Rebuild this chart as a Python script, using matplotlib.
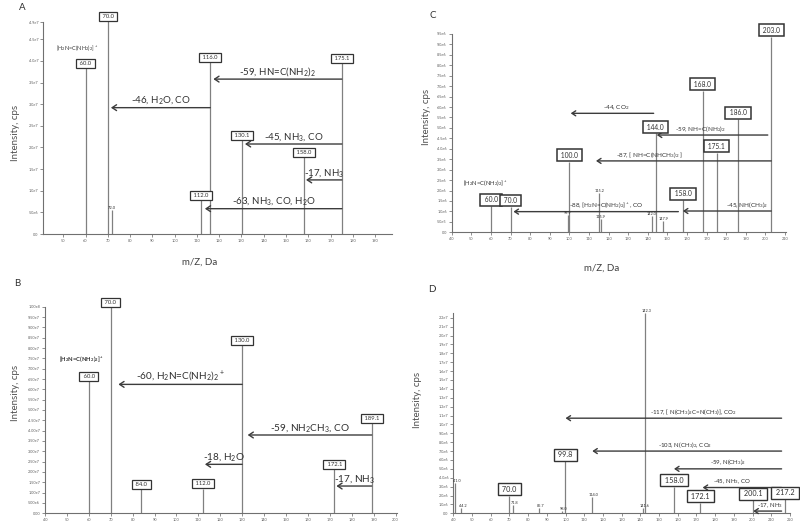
import numpy as np
import matplotlib
matplotlib.use('Agg')
import matplotlib.pyplot as plt

plt.rcParams['font.family'] = ['Lato', 'DejaVu Sans']
plt.rcParams['mathtext.default'] = 'regular'

# ---------------- Panel A ----------------
a_box_mz = [60.0, 70.0, 112.0, 116.0, 130.1, 158.0, 175.1]
a_box_int = [3.83e7, 4.92e7, 7.9e6, 3.98e7, 2.18e7, 1.78e7, 3.95e7]
a_small_mz = [72.0]
a_small_int = [5.6e6]
a_arrow_from = [175.1, 116.0, 175.1, 175.1, 175.1]
a_arrow_to = [117.4, 71.4, 131.6, 159.0, 113.6]
a_arrow_y = [3.58e7, 2.92e7, 2.08e7, 1.25e7, 5.85e6]
a_arrow_labels = ["-59, HN=C(NH$_2$)$_2$", "-46, H$_2$O, CO", "-45, NH$_3$, CO",
                  "-17, NH$_3$", "-63, NH$_3$, CO, H$_2$O"]
a_ion_label = "[H$_2$N=C(NH$_2$)$_2$]$^+$"
a_xticks = [50, 60, 70, 80, 90, 100, 110, 120, 130, 140, 150, 160, 170, 180, 190]
a_yticks = [0, 5e6, 1e7, 1.5e7, 2e7, 2.5e7, 3e7, 3.5e7, 4e7, 4.5e7, 4.9e7]

# ---------------- Panel B ----------------
b_box_mz = [60.0, 70.0, 84.0, 112.0, 130.0, 172.1, 189.1]
b_box_int = [6.4e7, 1.0e8, 1.16e7, 1.2e7, 8.15e7, 2.13e7, 4.35e7]
b_arrow_from = [130.0, 189.1, 130.0, 189.1]
b_arrow_to = [73.5, 132.5, 113.0, 173.0]
b_arrow_y = [6.24e7, 3.79e7, 2.37e7, 1.32e7]
b_arrow_labels = ["-60, H$_2$N=C(NH$_2$)$_2$$^+$", "-59, NH$_2$CH$_3$, CO",
                  "-18, H$_2$O", "-17, NH$_3$"]
b_ion_label = "[H$_2$N=C(NH$_2$)$_2$]$^+$"
b_xticks = list(range(40, 201, 10))
b_yticks = [i * 5e6 for i in range(21)]

# ---------------- Panel C ----------------
c_box_mz = [60.0, 70.0, 100.0, 144.0, 158.0, 168.0, 175.1, 186.0, 203.0]
c_box_int = [1.26e6, 1.23e6, 3.39e6, 4.74e6, 1.55e6, 6.79e6, 3.82e6, 5.43e6, 9.38e6]
c_small_mz = [99.3, 115.2, 115.9, 142.0, 147.9]
c_small_int = [0.85e6, 1.9e6, 0.62e6, 0.8e6, 0.55e6]
c_small_labels = ["99.9", "115.2", "115.9", "142.0", "147.9"]
c_arrow_from = [143.0, 201.2, 203.0, 155.6, 203.0]
c_arrow_to = [100.7, 144.6, 113.6, 71.5, 157.9]
c_arrow_y = [5.7e6, 4.66e6, 3.42e6, 0.99e6, 1.02e6]
c_arrow_labels = ["-44, CO$_2$", "-59, NH=C(NH$_2$)$_2$", "-87, [ NH=C(NHCH$_3$)$_2$ ]",
                  "-88, [H$_2$N=C(NH$_2$)$_2$]$^+$, CO", "-45, NH(CH$_3$)$_2$"]
c_ion_label = "[H$_2$N=C(NH$_2$)$_2$]$^+$"
c_xticks = list(range(40, 211, 10))
c_yticks = [i * 5e5 for i in range(20)]

# ---------------- Panel D ----------------
d_box_mz = [70.0, 99.8, 158.0, 172.1, 200.1, 217.2]
d_box_int = [2.0e6, 5.9e6, 3.0e6, 1.2e6, 1.5e6, 1.6e6]
d_small_mz = [41.0, 44.2, 71.8, 85.7, 98.0, 114.0, 141.6, 142.3]
d_small_int = [3.4e6, 0.6e6, 0.95e6, 0.6e6, 0.25e6, 1.8e6, 0.6e6, 2.25e7]
d_arrow_from = [215.5, 215.5, 215.5, 215.5, 215.5]
d_arrow_to = [100.0, 114.3, 158.0, 173.3, 200.4]
d_arrow_y = [1.07e7, 7.0e6, 5.0e6, 2.9e6, 0.25e6]
d_arrow_labels = ["-117, [ N(CH$_3$)$_2$C=N(CH$_3$)], CO$_2$", "-103, N(CH$_3$)$_2$, CO$_2$",
                  "-59, N(CH$_3$)$_2$", "-45, NH$_3$, CO", "-17, NH$_3$"]
d_xticks = list(range(40, 221, 10))
d_yticks = [i * 1e6 for i in range(23)]

# ---------------- layout / style ----------------
W, H = 800, 527
fig = plt.figure(figsize=(W / 100, H / 100), dpi=100)

PEAK_C = '#808080'
ARROW_C = '#3c3c3c'
TXT_C = '#303030'
TICK_C = '#606060'


def sci(v, d):
    if v == 0:
        return '0.' + '0' * d
    e = int(np.floor(np.log10(v) + 1e-9))
    m = v / 10 ** e
    return f"{m:.{d}f}e{e}"


def make_axes(px_left, px_right, px_bottom, px_top, xlim, ylim, xticks, yticks, ydig):
    ax = fig.add_axes([px_left / W, 1 - px_bottom / H,
                       (px_right - px_left) / W, (px_bottom - px_top) / H])
    ax.set_xlim(*xlim)
    ax.set_ylim(*ylim)
    for s in ['top', 'right']:
        ax.spines[s].set_visible(False)
    for s in ['left', 'bottom']:
        ax.spines[s].set_color('#707070')
        ax.spines[s].set_linewidth(0.8)
    ax.set_xticks(xticks)
    ax.set_xticklabels([str(t) for t in xticks])
    ax.set_yticks(yticks)
    ax.set_yticklabels([sci(t, ydig) for t in yticks])
    ax.tick_params(axis='both', length=2, width=0.5, color=TICK_C,
                   labelsize=2.8, labelcolor=TICK_C, pad=1.5)
    ax.patch.set_alpha(0)
    return ax


def draw_peaks(ax, mz, inten, lw=0.9):
    ax.vlines(mz, 0, inten, colors=PEAK_C, lw=lw, clip_on=False, zorder=2)


def draw_boxes(ax, mz, inten, fs, lw=0.9, off=1.5):
    for m, h in zip(mz, inten):
        ax.annotate(f" {m:.1f} ", xy=(m, h), xytext=(0, off), textcoords='offset points',
                    ha='center', va='bottom', fontsize=fs, color=TXT_C, zorder=5,
                    annotation_clip=False,
                    bbox=dict(boxstyle='square,pad=0.35', fc='white', ec='#333333', lw=lw))


def draw_arrows(ax, frm, to, ys, labels, fs, label_x=None, lw=1.0, ms=7, toff=1.0):
    for i, (f, t, y, lab) in enumerate(zip(frm, to, ys, labels)):
        ax.annotate('', xy=(t, y), xytext=(f, y),
                    arrowprops=dict(arrowstyle='->,head_length=0.45,head_width=0.3',
                                    lw=lw, color=ARROW_C, shrinkA=0, shrinkB=0,
                                    mutation_scale=ms), zorder=4)
        lx = (f + t) / 2 if label_x is None else label_x[i]
        ax.annotate(lab, xy=(lx, y), xytext=(0, toff), textcoords='offset points',
                    ha='center', va='bottom', fontsize=fs, color=TXT_C, zorder=6)


# ----- Panel A -----
axA = make_axes(43, 392, 234, 22, (40.9, 197.6), (0, 4.9e7), a_xticks, a_yticks, 1)
draw_peaks(axA, a_box_mz + a_small_mz, a_box_int + a_small_int)
draw_boxes(axA, a_box_mz, a_box_int, 4.2)
for m, h in zip(a_small_mz, a_small_int):
    axA.text(m, h, f"{m:.1f}", fontsize=3, ha='center', va='bottom', color=TXT_C)
draw_arrows(axA, a_arrow_from, a_arrow_to, a_arrow_y, a_arrow_labels, 7)
axA.text(56, 4.29e7, a_ion_label, fontsize=4, ha='center', va='center', color=TXT_C)

# ----- Panel C -----
axC = make_axes(451.7, 786, 232.3, 34, (40, 210.5), (0, 9.5e6), c_xticks, c_yticks, 1)
draw_peaks(axC, c_box_mz + c_small_mz, c_box_int + c_small_int)
draw_boxes(axC, c_box_mz, c_box_int, 4.8, lw=1.1, off=2)
for m, h, lab in zip(c_small_mz, c_small_int, c_small_labels):
    axC.text(m, h, lab, fontsize=2.8, ha='center', va='bottom', color=TXT_C, zorder=6)
c_label_x = [124, 167, 141, 119, 190.5]
draw_arrows(axC, c_arrow_from, c_arrow_to, c_arrow_y, c_arrow_labels, 4.6, c_label_x,
            lw=1.0, ms=6)
axC.text(57, 2.38e6, c_ion_label, fontsize=4.2, ha='center', va='center', color=TXT_C)

# ----- Panel B -----
axB = make_axes(45, 396.7, 513.3, 306.7, (40, 200.5), (0, 1.0e8), b_xticks, b_yticks, 2)
draw_peaks(axB, b_box_mz, b_box_int)
draw_boxes(axB, b_box_mz, b_box_int, 4.2)
draw_arrows(axB, b_arrow_from, b_arrow_to, b_arrow_y, b_arrow_labels, 7.2)
axB.text(56.8, 7.45e7, b_ion_label, fontsize=4.2, ha='center', va='center',
         color=TXT_C, fontweight='bold')

# ----- Panel D -----
axD = make_axes(453.3, 790, 513.3, 313.3, (40, 220), (0, 2.25e7), d_xticks, d_yticks, 1)
draw_peaks(axD, d_box_mz + d_small_mz, d_box_int + d_small_int)
draw_boxes(axD, d_box_mz, d_box_int, 5.2, lw=1.0, off=2)
for m, h in zip(d_small_mz, d_small_int):
    axD.text(m + 0.8, h, f"{m:.1f}", fontsize=2.8, ha='center', va='bottom',
             color=TXT_C, zorder=6)
d_label_x = [168.3, 163.9, 187, 189, 209.3]
draw_arrows(axD, d_arrow_from, d_arrow_to, d_arrow_y, d_arrow_labels, 4.4, d_label_x,
            lw=1.0, ms=6)

# ----- figure texts -----
def ftext(px, py, s, **kw):
    fig.text(px / W, 1 - py / H, s, ha='center', va='center', **kw)

ftext(22, 7, 'A', fontsize=7, color=TXT_C)
ftext(433, 15, 'C', fontsize=7, color=TXT_C)
ftext(17, 283, 'B', fontsize=7, color=TXT_C)
ftext(432, 290, 'D', fontsize=7, color=TXT_C)
for (px, py) in [(15, 133), (427, 117), (15, 393), (417, 400)]:
    ftext(px, py, 'Intensity, cps', fontsize=7, color='#505050', rotation=90)
ftext(200, 262, 'm/Z, Da', fontsize=7, color='#404040')
ftext(602, 268, 'm/Z, Da', fontsize=7, color='#404040')

fig.savefig('out.png', dpi=100, facecolor='white')
